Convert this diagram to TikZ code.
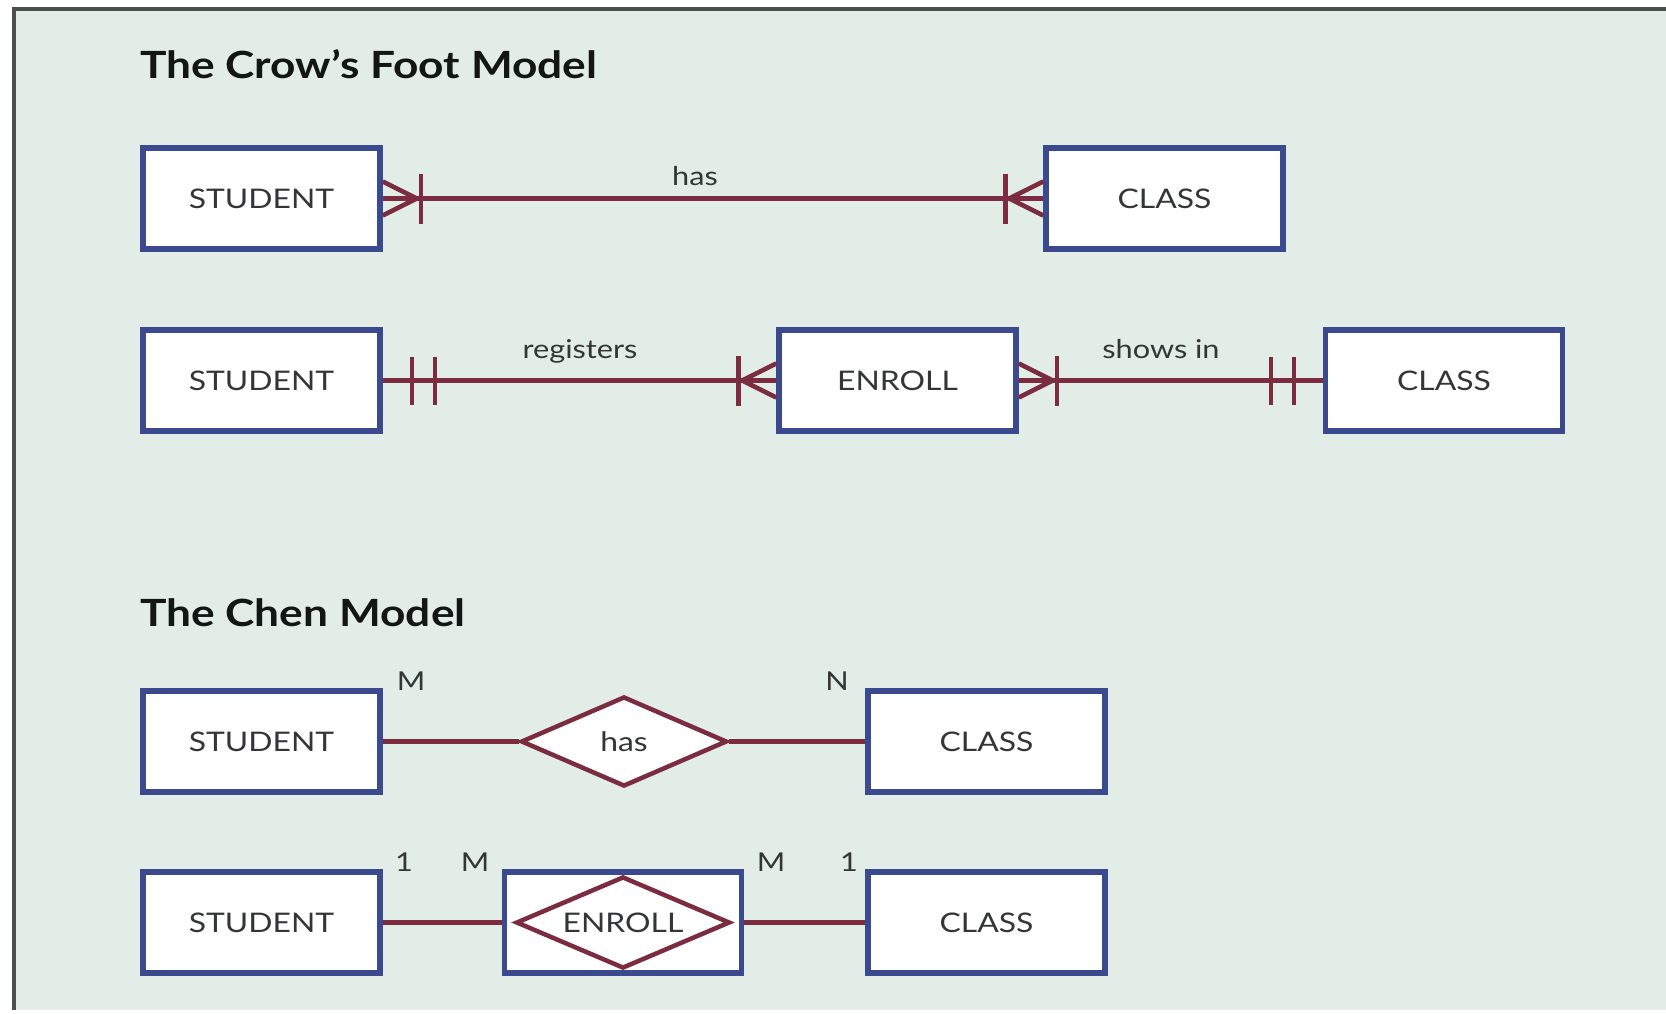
\documentclass[tikz,border=0pt]{standalone}
\usepackage{fontspec}
\setmainfont{Lato}[FakeStretch=1.18]
\usetikzlibrary{shapes.geometric}
\definecolor{bgc}{HTML}{E2EDE8}
\definecolor{navyc}{HTML}{3B4A8E}
\definecolor{maroonc}{HTML}{7B2D3F}
\definecolor{framec}{HTML}{4A4F4C}
\definecolor{txtc}{HTML}{333536}
\definecolor{titlec}{HTML}{141616}
\newcommand\manybar[2]{%
  \draw[relline] ([yshift=17pt]#1) -- ([xshift=#2*34pt]#1) -- ([yshift=-17pt]#1);
  \draw[relline] ([xshift=#2*38pt,yshift=25pt]#1) -- ([xshift=#2*38pt,yshift=-25pt]#1);}
\newcommand\onlyone[2]{%
  \draw[relline] ([xshift=#2*29pt,yshift=24pt]#1) -- ([xshift=#2*29pt,yshift=-24pt]#1);
  \draw[relline] ([xshift=#2*52pt,yshift=24pt]#1) -- ([xshift=#2*52pt,yshift=-24pt]#1);}
\begin{document}
\begin{tikzpicture}[x=1pt,y=-1pt,
  entity/.style={draw=navyc, line width=5.5pt, fill=white, minimum width=237pt,
    minimum height=101pt, inner sep=0pt, text=txtc, font=\fontsize{27}{32}\selectfont},
  relline/.style={draw=maroonc, line width=4.5pt},
  reldiamond/.style={diamond, aspect=2.4, draw=maroonc, line width=4.5pt, fill=white, inner sep=0pt,
    text=txtc, font=\fontsize{27}{32}\selectfont},
  title/.style={anchor=base west, inner sep=0pt, text=titlec, font=\fontsize{37.5}{42}\selectfont\bfseries},
  rlabel/.style={anchor=base, inner sep=0pt, text=txtc, font=\fontsize{26}{30}\selectfont},
  card/.style={anchor=base, inner sep=0pt, text=txtc, font=\fontsize{26}{30}\selectfont}]
\useasboundingbox (0,0) rectangle (1666,1013);
\fill[white] (0,0) rectangle (1666,1013);
\fill[bgc] (14,9) rectangle (1666,1010);
\draw[framec, line width=4pt] (14,1010) -- (14,9) -- (1666,9);

% Crow's Foot
\node[title] (t1) at (140,78) {The Crow’s Foot Model};
\node[entity] (s1) at (261.5,198.5) {STUDENT};
\node[entity] (c1) at (1164.5,198.5) {CLASS};
\draw[relline] (s1.east) -- (c1.west);
\manybar{s1.east}{1}
\manybar{c1.west}{-1}
\node[rlabel] (l1) at (695,185) {has};

\node[entity] (s2) at (261.5,380.5) {STUDENT};
\node[entity] (e2) at (897.5,380.5) {ENROLL};
\node[entity] (c2) at (1444,380.5) {CLASS};
\draw[relline] (s2.east) -- (e2.west);
\draw[relline] (e2.east) -- (c2.west);
\onlyone{s2.east}{1}
\manybar{e2.west}{-1}
\manybar{e2.east}{1}
\onlyone{c2.west}{-1}
\node[rlabel] (l2) at (580,358) {registers};
\node[rlabel] (l3) at (1161,358) {shows in};

% Chen
\node[title] (t2) at (140,626) {The Chen Model};
\node[entity] (s3) at (261.5,741.5) {STUDENT};
\node[entity] (c3) at (986.5,741.5) {CLASS};
\node[reldiamond, minimum width=206pt, minimum height=90pt] (d3) at (624,741.5) {has};
\draw[relline] (s3.east) -- (d3.west);
\draw[relline] (d3.east) -- (c3.west);
\node[card] (m3) at (411,690) {M};
\node[card] (n3) at (837,690) {N};

\node[entity] (s4) at (261.5,922.5) {STUDENT};
\node[entity] (c4) at (986.5,922.5) {CLASS};
\node[entity] (e4) at (623,922.5) {};
\node[reldiamond, minimum width=214pt, minimum height=92pt] (d4) at (623,922.5) {ENROLL};
\draw[relline] (s4.east) -- (e4.west);
\draw[relline] (e4.east) -- (c4.west);
\node[card] (o4a) at (404,871) {1};
\node[card] (m4a) at (475,871) {M};
\node[card] (m4b) at (771,871) {M};
\node[card] (o4b) at (849,871) {1};
\end{tikzpicture}
\end{document}
